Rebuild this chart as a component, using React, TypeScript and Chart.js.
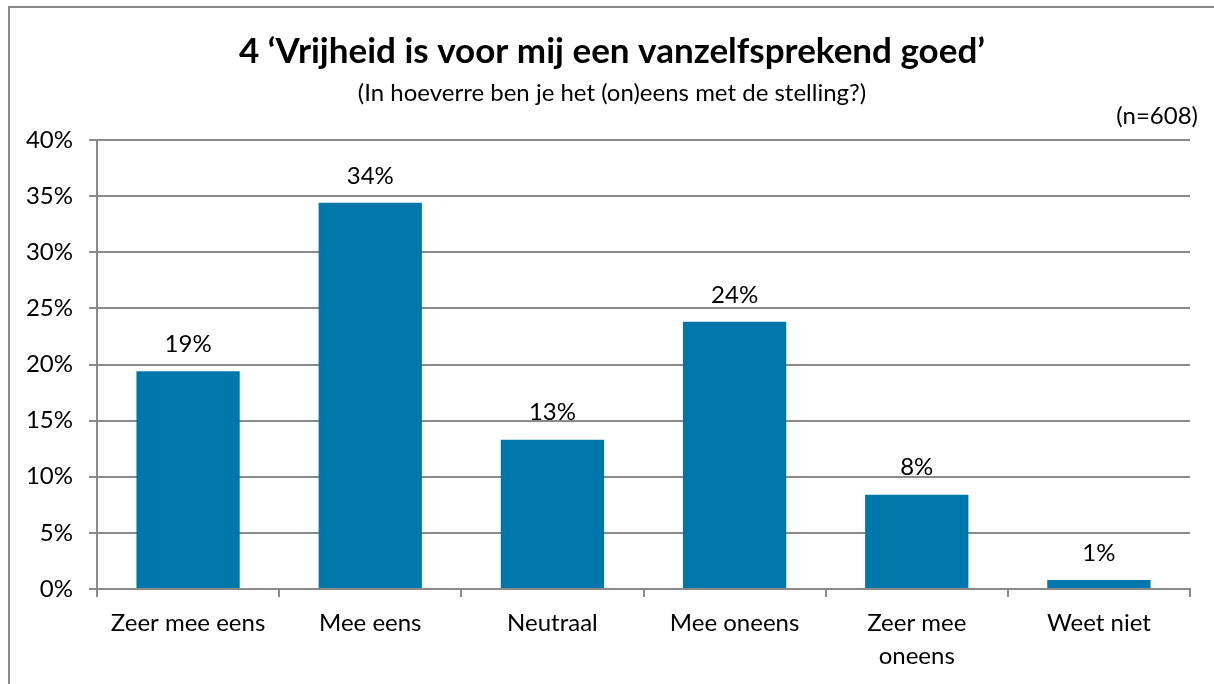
import React, { useEffect, useRef } from "react";
import { Chart, registerables } from "chart.js";

Chart.register(...registerables);

const categories: string[][] = [
  ["Zeer mee eens"],
  ["Mee eens"],
  ["Neutraal"],
  ["Mee oneens"],
  ["Zeer mee", "oneens"],
  ["Weet niet"],
];
const values: number[] = [19.4, 34.4, 13.3, 23.8, 8.4, 0.8];
const valueLabels: string[] = ["19%", "34%", "13%", "24%", "8%", "1%"];
const yMax = 40;
const yStep = 5;
const titleText = "4 \u2018Vrijheid is voor mij een vanzelfsprekend goed\u2019";
const subtitleText = "(In hoeverre ben je het (on)eens met de stelling?)";
const sampleText = "(n=608)";

const W = 1214;
const H = 684;
const FONT = "Lato, 'Noto Sans', sans-serif";
const GRID = "#8a8a8a";
const BAR = "#0077AA";
const FS = 24;

export default function App() {
  const ref = useRef<HTMLCanvasElement | null>(null);

  useEffect(() => {
    if (!ref.current) return;
    const decor = {
      id: "decor",
      afterDraw(chart: any) {
        const ctx = chart.ctx;
        ctx.save();
        ctx.strokeStyle = GRID;
        ctx.lineWidth = 2;
        ctx.beginPath();
        ctx.moveTo(9, H + 5);
        ctx.lineTo(9, 7);
        ctx.lineTo(W + 5, 7);
        ctx.stroke();
        ctx.fillStyle = "#000";
        ctx.textAlign = "center";
        ctx.textBaseline = "middle";
        ctx.font = `bold 35px ${FONT}`;
        ctx.fillText(titleText, 612, 52);
        ctx.font = `${FS}px ${FONT}`;
        ctx.fillText(subtitleText, 612, 93);
        ctx.textAlign = "right";
        ctx.fillText(sampleText, 1198, 116);
        ctx.restore();
      },
      afterDatasetsDraw(chart: any) {
        const ctx = chart.ctx;
        const meta = chart.getDatasetMeta(0);
        ctx.save();
        ctx.fillStyle = "#000";
        ctx.font = `${FS}px ${FONT}`;
        ctx.textAlign = "center";
        ctx.textBaseline = "middle";
        meta.data.forEach((bar: any, i: number) => {
          ctx.fillText(valueLabels[i], bar.x, bar.y - 27);
        });
        ctx.restore();
      },
    };

    const chart = new Chart(ref.current, {
      type: "bar",
      data: {
        labels: categories,
        datasets: [
          {
            data: values,
            backgroundColor: BAR,
            borderWidth: 0,
            categoryPercentage: 1,
            barPercentage: 0.567,
          },
        ],
      },
      options: {
        animation: false,
        responsive: false,
        devicePixelRatio: 1,
        layout: { padding: { top: 140, right: 24, left: 0, bottom: 0 } },
        plugins: {
          legend: { display: false },
          title: { display: false },
          tooltip: { enabled: false },
        },
        scales: {
          x: {
            grid: {
              display: true,
              drawOnChartArea: false,
              drawTicks: true,
              tickLength: 8,
              color: GRID,
              lineWidth: 2,
            },
            border: { display: true, color: GRID, width: 2 },
            ticks: {
              color: "#000",
              font: { family: FONT, size: FS, lineHeight: 1.4 },
              padding: 9,
              maxRotation: 0,
              autoSkip: false,
            },
            afterFit(scale: any) {
              scale.height = H - 589;
            },
          },
          y: {
            min: 0,
            max: yMax,
            ticks: {
              stepSize: yStep,
              color: "#000",
              font: { family: FONT, size: FS },
              padding: 16,
              callback: (v: any) => `${v}%`,
            },
            grid: {
              color: GRID,
              lineWidth: 2,
              tickLength: 8,
              drawTicks: true,
            },
            border: { display: true, color: GRID, width: 2 },
            afterFit(scale: any) {
              scale.width = 97;
            },
          },
        },
      },
      plugins: [decor],
    });
    return () => chart.destroy();
  }, []);

  return (
    <div style={{ position: "fixed", left: 0, top: 0, width: W, height: H, background: "#fff" }}>
      <canvas ref={ref} width={W} height={H} style={{ width: W, height: H, display: "block" }} />
    </div>
  );
}
